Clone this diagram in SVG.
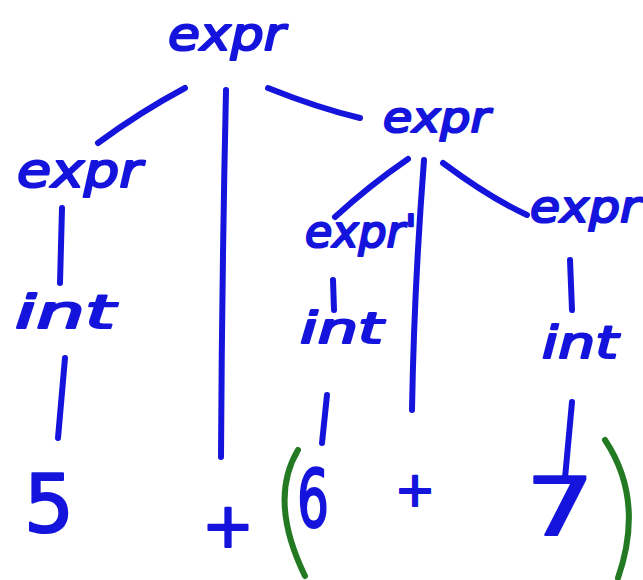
<svg xmlns="http://www.w3.org/2000/svg" width="643" height="580" viewBox="0 0 643 580">
<style>
text{font-family:"DejaVu Sans","Liberation Sans",sans-serif;font-style:italic;font-weight:normal;fill:#1414dc;stroke:#1414dc;stroke-width:2.2;stroke-linejoin:round}
.d{font-style:normal}
.e{stroke:#1414dc;stroke-width:6;fill:none;stroke-linecap:round}
.p{stroke:#237a23;stroke-width:6;fill:none;stroke-linecap:round}
</style>
<rect width="643" height="580" fill="#ffffff"/>
<g id="connectors">
<path class="e" d="M185,88 Q140,112 98,143"/>
<path class="e" d="M226,90 Q222,270 221,457"/>
<path class="e" d="M268,88 Q318,108 360,118"/>
<path class="e" d="M62,208 L60,283"/>
<path class="e" d="M65,358 L58,438"/>
<path class="e" d="M408,159 Q370,185 335,217"/>
<path class="e" d="M424,160 Q414,290 412,410"/>
<path class="e" d="M443,163 Q490,198 527,215"/>
<path class="e" d="M333,280 L334,310"/>
<path class="e" d="M327,395 L322,443"/>
<path class="e" d="M570,260 L572,310"/>
<path class="e" d="M572,402 L565,478"/>
</g>
<g id="n-root"><text x="168" y="50" font-size="46" textLength="117" lengthAdjust="spacingAndGlyphs">expr</text></g>
<g id="n-expr-left"><text x="17" y="187" font-size="48" textLength="125" lengthAdjust="spacingAndGlyphs">expr</text></g>
<g id="n-expr-right"><text x="383" y="132" font-size="42" textLength="107" lengthAdjust="spacingAndGlyphs">expr</text></g>
<g id="n-exprp"><text x="305" y="247" font-size="44" textLength="112" lengthAdjust="spacingAndGlyphs">expr'</text></g>
<g id="n-expr-rr"><text x="530" y="222" font-size="44" textLength="110" lengthAdjust="spacingAndGlyphs">expr</text></g>
<g id="n-int1"><text x="15" y="328" font-size="46" textLength="100" lengthAdjust="spacingAndGlyphs">int</text></g>
<g id="n-int2"><text x="300" y="343" font-size="42" textLength="83" lengthAdjust="spacingAndGlyphs">int</text></g>
<g id="n-int3"><text x="542" y="358" font-size="44" textLength="76" lengthAdjust="spacingAndGlyphs">int</text></g>
<g id="n-5"><text class="d" x="24" y="532" font-size="80" textLength="50" lengthAdjust="spacingAndGlyphs">5</text></g>
<g id="n-plus1"><text class="d" x="202" y="547" font-size="62" textLength="52" lengthAdjust="spacingAndGlyphs">+</text></g>
<g id="n-6"><text class="d" x="297" y="527" font-size="80" textLength="32" lengthAdjust="spacingAndGlyphs">6</text></g>
<g id="n-plus2"><text class="d" x="395" y="506" font-size="48" textLength="40" lengthAdjust="spacingAndGlyphs">+</text></g>
<g id="n-7"><text class="d" x="526" y="535" font-size="80" textLength="68" lengthAdjust="spacingAndGlyphs">7</text></g>
<g id="parens">
<path class="p" d="M298,450 Q268,500 305,576"/>
<path class="p" d="M605,440 Q645,500 618,578"/>
</g>
</svg>
